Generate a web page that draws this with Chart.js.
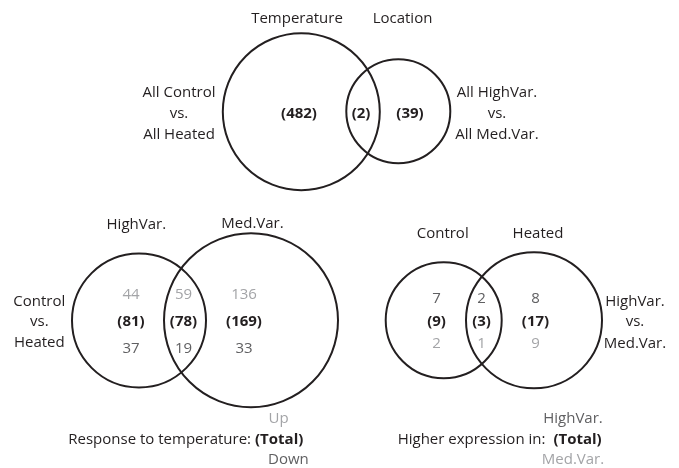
<!DOCTYPE html>
<html>
<head>
<meta charset="utf-8">
<script src="https://cdn.jsdelivr.net/npm/chart.js@4/dist/chart.umd.min.js"></script>
<style>
  html, body { margin: 0; padding: 0; background: #ffffff; }
  #wrap { width: 679px; height: 468px; }
</style>
</head>
<body>
<div id="wrap"><canvas id="c" width="679" height="468"></canvas></div>
<script>
// ---- data ----
// Panel A: genes responding to temperature vs. location
const topSets = ['Temperature', 'Location'];
const topTotals = [482, 2, 39];            // Temperature only, both, Location only
const topLeftLabel = ['All Control', 'vs.', 'All Heated'];
const topRightLabel = ['All HighVar.', 'vs.', 'All Med.Var.'];

// Panel B: response to temperature in HighVar. and Med.Var.
const tempSets = ['HighVar.', 'Med.Var.'];
const tempUp = [44, 59, 136];
const tempTotal = [81, 78, 169];
const tempDown = [37, 19, 33];
const tempSideLabel = ['Control', 'vs.', 'Heated'];
const tempLegend = ['Up', 'Response to temperature:', '(Total)', 'Down'];

// Panel C: higher expression between locations in Control and Heated
const exprSets = ['Control', 'Heated'];
const exprHigh = [7, 2, 8];
const exprTotal = [9, 3, 17];
const exprMed = [2, 1, 9];
const exprSideLabel = ['HighVar.', 'vs.', 'Med.Var.'];
const exprLegend = ['HighVar.', 'Higher expression in:', '(Total)', 'Med.Var.'];

// ---- layout (positions in plot units = pixels) ----
const circles = [
  { x: 301.3, y: 111.7, r: 78.5 }, { x: 398.3, y: 111.3, r: 52 },
  { x: 139, y: 320.5, r: 67 },     { x: 251, y: 320.3, r: 87 },
  { x: 443.7, y: 320.3, r: 58 },   { x: 534, y: 320.3, r: 68 }
];

const FONT = '"Open Sans", "Noto Sans", sans-serif';
const BLACK = '#231f20', DARK = '#606062', LIGHT = '#a3a4a7';
const FS = 15;

const textPlugin = {
  id: 'vennText',
  afterDatasetsDraw(chart) {
    const ctx = chart.ctx, sx = chart.scales.x, sy = chart.scales.y;
    const X = v => sx.getPixelForValue(v), Y = v => sy.getPixelForValue(v);
    function t(str, x, y, opt) {
      opt = opt || {};
      ctx.save();
      ctx.font = (opt.bold ? 'bold ' : '') + (opt.size || FS) + 'px ' + FONT;
      ctx.fillStyle = opt.color || BLACK;
      ctx.textAlign = opt.align || 'center';
      ctx.textBaseline = 'middle';
      ctx.fillText(String(str), X(x), Y(y));
      ctx.restore();
    }
    function width(str, bold) {
      ctx.save();
      ctx.font = (bold ? 'bold ' : '') + FS + 'px ' + FONT;
      const w = ctx.measureText(str).width;
      ctx.restore();
      return w;
    }
    const par = v => '(' + v + ')';

    // Panel A
    t(topSets[0], 297, 19); t(topSets[1], 402.5, 19);
    [92.5, 114, 135].forEach((y, i) => {
      t(topLeftLabel[i], 179, y);
      t(topRightLabel[i], 497, y);
    });
    [299, 361, 410].forEach((x, i) => t(par(topTotals[i]), x, 114, { bold: true }));

    // Panel B
    t(tempSets[0], 136.3, 225); t(tempSets[1], 252.5, 224);
    [301.7, 322, 342.7].forEach((y, i) => t(tempSideLabel[i], 39.3, y));
    [131, 183.5, 244].forEach((x, i) => {
      t(tempUp[i], x, 295, { color: LIGHT });
      t(par(tempTotal[i]), x, 322, { bold: true });
      t(tempDown[i], x, 349, { color: DARK });
    });
    {
      const right = 303.3;
      const wb = width(tempLegend[2], true);
      t(tempLegend[2], right, 439.3, { bold: true, align: 'right' });
      t(tempLegend[1], right - (wb + 4), 439.3, { align: 'right' });
      t(tempLegend[0], 268.5, 419, { color: LIGHT, align: 'left' });
      t(tempLegend[3], 268, 459.3, { color: DARK, align: 'left' });
    }

    // Panel C
    t(exprSets[0], 442.7, 234); t(exprSets[1], 538, 234);
    [301.7, 322, 343.3].forEach((y, i) => t(exprSideLabel[i], 635, y));
    [436.5, 481.5, 535.5].forEach((x, i) => {
      t(exprHigh[i], x, 298.5, { color: DARK });
      t(par(exprTotal[i]), x, 321.7, { bold: true });
      t(exprMed[i], x, 344, { color: LIGHT });
    });
    {
      const right = 601.7;
      const wb = width(exprLegend[2], true);
      t(exprLegend[2], right, 439.3, { bold: true, align: 'right' });
      t(exprLegend[1], right - (wb + 8), 439.3, { align: 'right' });
      t(exprLegend[0], 573, 419, { color: DARK });
      t(exprLegend[3], 573, 459.3, { color: LIGHT });
    }
  }
};

new Chart(document.getElementById('c'), {
  type: 'bubble',
  data: {
    datasets: [{
      data: circles,
      backgroundColor: 'rgba(0,0,0,0)',
      borderColor: BLACK,
      borderWidth: 2,
      hoverBorderWidth: 2,
      clip: false
    }]
  },
  options: {
    responsive: false,
    animation: false,
    events: [],
    layout: { padding: 0, autoPadding: false },
    plugins: { legend: { display: false }, tooltip: { enabled: false } },
    scales: {
      x: { type: 'linear', min: 0, max: 679, display: false },
      y: { type: 'linear', min: 0, max: 468, reverse: true, display: false }
    }
  },
  plugins: [textPlugin]
});
</script>
</body>
</html>
